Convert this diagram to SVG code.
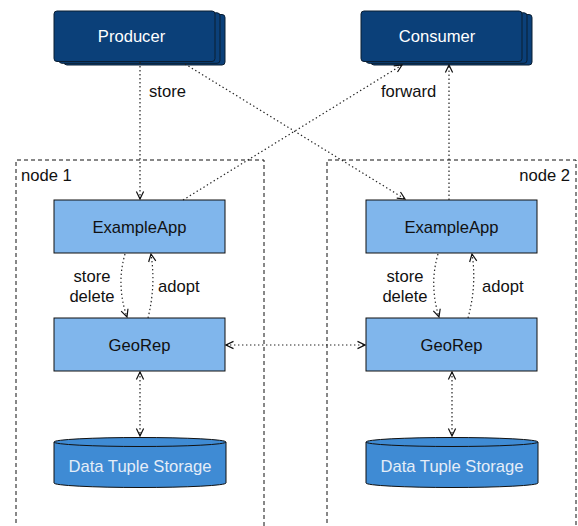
<svg xmlns="http://www.w3.org/2000/svg" width="578" height="526" viewBox="0 0 578 526">
<style>
text{font-family:"Liberation Sans",Arial,Helvetica,sans-serif;font-size:16.6px}
.dark{fill:#0b4079;stroke:#0a1e33;stroke-width:1}
.light{fill:#80b6ec;stroke:#111;stroke-width:1}
.cyl{fill:#3f8bd4;stroke:#111;stroke-width:1}
.wt{fill:#ffffff;text-anchor:middle}
.bt{fill:#111;text-anchor:middle}
.ct{fill:#e4edf8;text-anchor:middle}
.lbl{fill:#111}
.grp{fill:none;stroke:#111;stroke-width:1;stroke-dasharray:4 3}
.con{fill:none;stroke:#222;stroke-width:1.2;stroke-dasharray:1.4 2.6}
</style>
<defs>
<marker id="arr" viewBox="-9 -5 10 10" refX="0" refY="0" markerWidth="10" markerHeight="10" markerUnits="userSpaceOnUse" orient="auto-start-reverse">
<path d="M-7.5,-3.6 L0,0 L-7.5,3.6 M-2,0 L0,0" fill="none" stroke="#111" stroke-width="1.2"/>
</marker>
</defs>
<rect width="578" height="526" fill="#ffffff"/>
<g id="node1-group">
<path class="grp" d="M16,530 L16,160 L264,160 L264,530"/>
<text class="lbl" x="21" y="181">node 1</text>
</g>
<g id="node2-group">
<path class="grp" d="M327,530 L327,160 L576,160 L576,530"/>
<text class="lbl" x="570" y="181" text-anchor="end">node 2</text>
</g>
<g id="producer">
<rect class="dark" x="64" y="14.5" width="161" height="50.5" rx="3"/>
<rect class="dark" x="59" y="12.8" width="161" height="50.5" rx="3"/>
<rect class="dark" x="54" y="11" width="161" height="50.5" rx="3"/>
<text class="wt" x="131.5" y="41.5">Producer</text>
</g>
<g id="consumer">
<rect class="dark" x="371" y="14.5" width="161" height="50.5" rx="3"/>
<rect class="dark" x="366" y="12.8" width="161" height="50.5" rx="3"/>
<rect class="dark" x="361" y="11" width="161" height="50.5" rx="3"/>
<text class="wt" x="437" y="41.5">Consumer</text>
</g>
<g id="exampleapp1">
<rect class="light" x="54" y="200" width="171" height="53"/>
<text class="bt" x="139.5" y="233">ExampleApp</text>
</g>
<g id="georep1">
<rect class="light" x="54" y="318" width="171" height="53"/>
<text class="bt" x="139.5" y="351">GeoRep</text>
</g>
<g id="storage1">
<path class="cyl" d="M54,442 L54,483 A86,4.5 0 0 0 226,483 L226,442 A86,4.5 0 0 0 54,442 Z"/>
<path d="M54,442 A86,4.5 0 0 0 226,442" fill="none" stroke="#111" stroke-width="1"/>
<text class="ct" x="140" y="471.5">Data Tuple Storage</text>
</g>
<g id="exampleapp2">
<rect class="light" x="366" y="200" width="171" height="53"/>
<text class="bt" x="451.5" y="233">ExampleApp</text>
</g>
<g id="georep2">
<rect class="light" x="366" y="318" width="171" height="53"/>
<text class="bt" x="451.5" y="351">GeoRep</text>
</g>
<g id="storage2">
<path class="cyl" d="M366,442 L366,483 A86,4.5 0 0 0 538,483 L538,442 A86,4.5 0 0 0 366,442 Z"/>
<path d="M366,442 A86,4.5 0 0 0 538,442" fill="none" stroke="#111" stroke-width="1"/>
<text class="ct" x="452" y="471.5">Data Tuple Storage</text>
</g>
<g id="connectors">
<path class="con" d="M140,62 L140,199" marker-end="url(#arr)"/>
<path class="con" d="M185,64 L405,199" marker-end="url(#arr)"/>
<path class="con" d="M183,200 L402,65" marker-end="url(#arr)"/>
<path class="con" d="M449,200 L449,65" marker-end="url(#arr)"/>
<path class="con" d="M125,254 Q116,285 127,317" marker-end="url(#arr)"/>
<path class="con" d="M148,318 Q156,285 151,254" marker-end="url(#arr)"/>
<path class="con" d="M438,254 Q429,285 439,317" marker-end="url(#arr)"/>
<path class="con" d="M468,318 Q477,285 472,254" marker-end="url(#arr)"/>
<path class="con" d="M226,345 L365,345" marker-start="url(#arr)" marker-end="url(#arr)"/>
<path class="con" d="M140,372 L140,436" marker-start="url(#arr)" marker-end="url(#arr)"/>
<path class="con" d="M452,372 L452,436" marker-start="url(#arr)" marker-end="url(#arr)"/>
<text class="lbl" x="149" y="97">store</text>
<text class="lbl" x="381" y="97">forward</text>
<text class="lbl" x="92" y="282" text-anchor="middle">store</text>
<text class="lbl" x="92" y="302" text-anchor="middle">delete</text>
<text class="lbl" x="158" y="292">adopt</text>
<text class="lbl" x="405" y="282" text-anchor="middle">store</text>
<text class="lbl" x="405" y="302" text-anchor="middle">delete</text>
<text class="lbl" x="482" y="292">adopt</text>
</g>
</svg>
